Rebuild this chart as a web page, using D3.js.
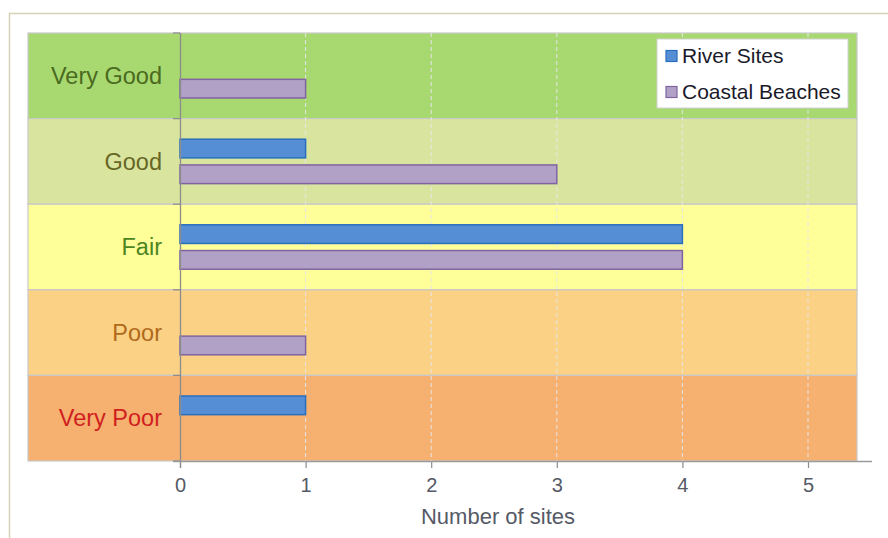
<!DOCTYPE html>
<html lang="en">
<head>
    <meta charset="UTF-8">
    <title>Number of sites by condition</title>
    <script src="https://d3js.org/d3.v7.min.js"></script>
    <style>
        body {
            margin: 0;
            background: #ffffff;
            font-family: "Liberation Sans", Arial, sans-serif;
        }
        svg {
            display: block;
        }
    </style>
</head>
<body>
    <svg width="888" height="538"></svg>

    <script>
        // chart values
        const categories = ["Very Good", "Good", "Fair", "Poor", "Very Poor"];
        const series = ["River Sites", "Coastal Beaches"];
        const riverSites = [0, 1, 4, 0, 1];
        const coastalBeaches = [1, 3, 4, 1, 0];
        const xTicks = [0, 1, 2, 3, 4, 5];

        const bandColors = ["#a8d870", "#d9e59e", "#ffff99", "#fbd185", "#f6b06f"];
        const labelColors = ["#4a6a20", "#676626", "#4c8622", "#b06a1c", "#d01f1f"];
        const barFill = ["#558ed5", "#b2a1c7"];
        const barStroke = ["#2a6fbd", "#8064a2"];

        const svg = d3.select("svg");

        // outer frame
        svg.append("path")
            .attr("d", "M9.5,538 V13.5 H888")
            .attr("fill", "none")
            .attr("stroke", "#d8d2b4")
            .attr("stroke-width", 1.5);

        const plotLeft = 28, plotRight = 857, plotTop = 33, plotBottom = 461;

        const x = d3.scaleLinear().domain([0, 5]).range([180, 808]);
        const y = d3.scaleBand().domain(categories).range([plotTop, plotBottom]);
        const ySub = d3.scaleBand().domain(series).range([0, y.bandwidth()])
            .paddingInner(0.275).paddingOuter(0.8);

        // coloured condition bands
        svg.append("g").selectAll("rect")
            .data(categories)
            .join("rect")
            .attr("x", plotLeft)
            .attr("y", d => y(d))
            .attr("width", plotRight - plotLeft)
            .attr("height", y.bandwidth())
            .attr("fill", (d, i) => bandColors[i])
            .attr("stroke", "#c8c8c8")
            .attr("stroke-width", 1.2);

        // dashed gridlines
        svg.append("g").selectAll("line")
            .data(xTicks.filter(d => d > 0))
            .join("line")
            .attr("x1", d => x(d)).attr("x2", d => x(d))
            .attr("y1", plotTop).attr("y2", plotBottom)
            .attr("stroke", "#e6e6e6")
            .attr("stroke-width", 1)
            .attr("stroke-dasharray", "4,3");

        // bars
        const rows = categories.map((c, i) => ({ cat: c, values: [riverSites[i], coastalBeaches[i]] }));
        svg.append("g").selectAll("g")
            .data(rows)
            .join("g")
            .attr("transform", d => `translate(0,${y(d.cat)})`)
            .selectAll("rect")
            .data(d => d.values.map((v, j) => ({ s: series[j], v, j })).filter(d => d.v > 0))
            .join("rect")
            .attr("x", x(0))
            .attr("y", d => ySub(d.s))
            .attr("width", d => x(d.v) - x(0))
            .attr("height", ySub.bandwidth())
            .attr("fill", d => barFill[d.j])
            .attr("stroke", d => barStroke[d.j])
            .attr("stroke-width", 1.5);

        // category labels
        svg.append("g").selectAll("text")
            .data(categories)
            .join("text")
            .attr("x", 162)
            .attr("y", d => y(d) + y.bandwidth() / 2)
            .attr("dy", "0.35em")
            .attr("text-anchor", "end")
            .attr("font-size", 23.5)
            .attr("fill", (d, i) => labelColors[i])
            .text(d => d);

        // y axis line with ticks at band edges
        svg.append("line")
            .attr("x1", 180.5).attr("x2", 180.5)
            .attr("y1", plotTop).attr("y2", plotBottom + 7)
            .attr("stroke", "#8c8c8c").attr("stroke-width", 1.3);
        svg.append("g").selectAll("line")
            .data(categories.map(c => y(c)).concat([plotBottom]))
            .join("line")
            .attr("x1", 173).attr("x2", 180)
            .attr("y1", d => d).attr("y2", d => d)
            .attr("stroke", "#8c8c8c").attr("stroke-width", 1.2);

        // x axis
        const xAxis = svg.append("g")
            .attr("transform", `translate(0,${plotBottom})`)
            .call(d3.axisBottom(x).tickValues(xTicks).tickSize(7).tickPadding(10).tickFormat(d3.format("d")));
        xAxis.select(".domain").remove();
        xAxis.selectAll(".tick line").attr("stroke", "#8c8c8c").attr("stroke-width", 1.2);
        xAxis.selectAll(".tick text")
            .attr("font-size", 20)
            .attr("font-family", "'Liberation Sans', Arial, sans-serif")
            .attr("fill", "#555a66");
        svg.append("line")
            .attr("x1", 173).attr("x2", 872)
            .attr("y1", plotBottom + 0.5).attr("y2", plotBottom + 0.5)
            .attr("stroke", "#9a9a9a").attr("stroke-width", 1.5);

        svg.append("text")
            .attr("x", 498)
            .attr("y", 524)
            .attr("text-anchor", "middle")
            .attr("font-size", 22)
            .attr("fill", "#555a66")
            .text("Number of sites");

        // legend
        const legend = svg.append("g").attr("transform", "translate(657,39)");
        legend.append("rect")
            .attr("width", 191).attr("height", 69)
            .attr("fill", "#ffffff")
            .attr("stroke", "#d0d0d0");
        const item = legend.selectAll("g")
            .data(series)
            .join("g")
            .attr("transform", (d, i) => `translate(9,${17 + i * 36})`);
        item.append("rect")
            .attr("x", 0).attr("y", -5.5)
            .attr("width", 11).attr("height", 11)
            .attr("fill", (d, i) => barFill[i])
            .attr("stroke", (d, i) => barStroke[i])
            .attr("stroke-width", 1.2);
        item.append("text")
            .attr("x", 16)
            .attr("dy", "0.35em")
            .attr("font-size", 21)
            .attr("fill", "#1a1a2a")
            .text(d => d);
    </script>
</body>
</html>
